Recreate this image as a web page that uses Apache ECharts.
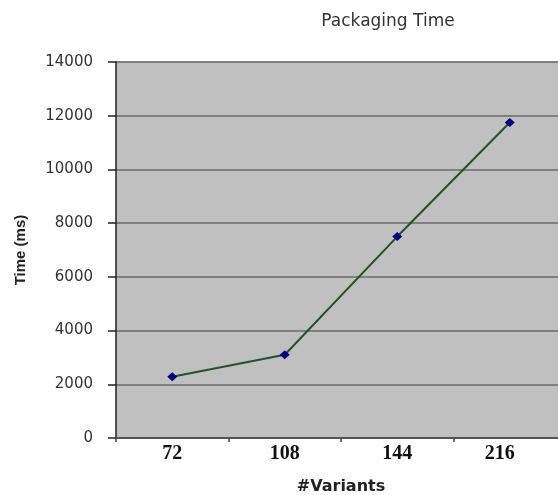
<!DOCTYPE html>
<html>
<head>
<meta charset="utf-8">
<script src="https://cdn.jsdelivr.net/npm/echarts@6/dist/echarts.min.js"></script>
<style>
html,body{margin:0;padding:0;background:#fff;}
#chart{width:558px;height:495px;}
</style>
</head>
<body>
<div id="chart"></div>
<script>
var titleText = 'Packaging Time';
var categories = ['72', '108', '144', '216'];
var timeValues = [2280, 3100, 7500, 11750];
var yTicks = [0, 2000, 4000, 6000, 8000, 10000, 12000, 14000];
var xAxisName = '#Variants';
var yAxisName = 'Time (ms)';

var chart = echarts.init(document.getElementById('chart'), null, {renderer: 'canvas'});
chart.setOption({
  backgroundColor: '#ffffff',
  animation: false,
  title: {
    text: titleText,
    left: 383,
    top: 8,
    textAlign: 'center',
    textStyle: {fontFamily: 'DejaVu Sans', fontSize: 17, fontWeight: 'normal', color: '#333333'}
  },
  grid: {left: 116, top: 62, width: 450, height: 376, containLabel: false,
         outerBoundsMode: 'none',
         show: true, backgroundColor: '#c0c0c0', borderWidth: 0},
  xAxis: {
    type: 'category',
    data: categories,
    boundaryGap: true,
    name: xAxisName,
    nameLocation: 'middle',
    nameGap: 41,
    nameTextStyle: {fontFamily: 'DejaVu Sans', fontSize: 16, fontWeight: 'bold', color: '#222222'},
    axisLine: {show: true, lineStyle: {color: '#555555', width: 2}},
    axisTick: {show: true, inside: false, length: 4, alignWithLabel: false, lineStyle: {color: '#444444', width: 1.5}},
    axisLabel: {
      margin: 6,
      fontFamily: 'Liberation Serif', fontSize: 20, fontWeight: 'bold', color: '#111111',
      formatter: function (v, i) { return i === categories.length - 1 ? '{last|' + v + '}' : v; },
      rich: {last: {fontFamily: 'Liberation Serif', fontSize: 20, fontWeight: 'bold', color: '#111111', padding: [0, 20, 0, 0]}}
    },
    splitLine: {show: false}
  },
  yAxis: {
    type: 'value',
    min: yTicks[0],
    max: yTicks[yTicks.length - 1],
    interval: yTicks[1] - yTicks[0],
    name: yAxisName,
    nameLocation: 'middle',
    nameGap: 88,
    nameRotate: 90,
    nameTextStyle: {fontFamily: 'Liberation Sans', fontSize: 15, fontWeight: 'bold', color: '#222222'},
    axisLine: {show: true, lineStyle: {color: '#222222', width: 1.5}},
    axisTick: {show: true, inside: false, length: 8, lineStyle: {color: '#222222', width: 1.5}},
    axisLabel: {margin: 23, fontFamily: 'DejaVu Sans', fontSize: 15, color: '#333333',
                formatter: function (v) { return String(v); }},
    splitLine: {show: true, lineStyle: {color: '#7f7f7f', width: 2}}
  },
  series: [{
    type: 'line',
    data: timeValues,
    symbol: 'diamond',
    symbolSize: [10, 9],
    itemStyle: {color: '#000080'},
    lineStyle: {color: '#23522a', width: 2},
    z: 3
  }]
});
</script>
</body>
</html>
